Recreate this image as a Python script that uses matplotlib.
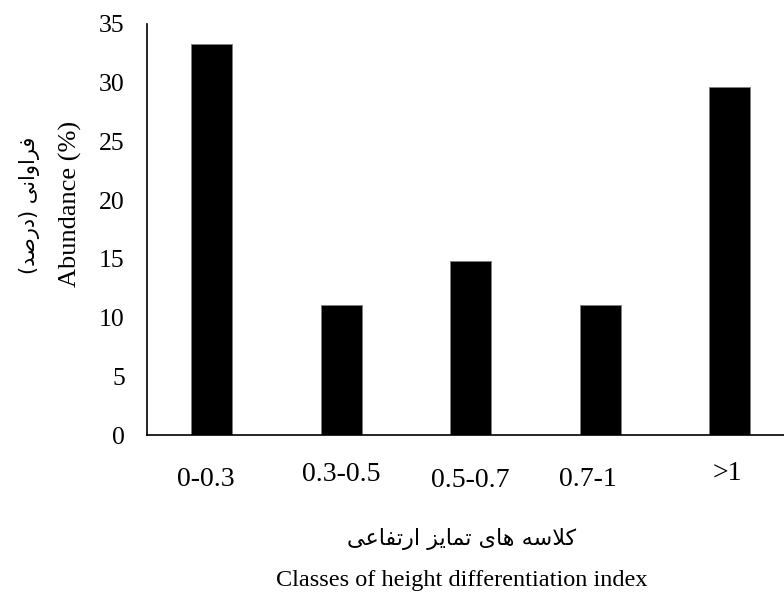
import numpy as np
import matplotlib
matplotlib.use('Agg')
import matplotlib.pyplot as plt

plt.rcParams['font.family'] = ['Liberation Serif', 'DejaVu Sans']

# داده ها
classes = ['0-0.3', '0.3-0.5', '0.5-0.7', '0.7-1', '>1']
abundance = [33.3, 11.1, 14.8, 11.1, 29.6]
y_ticks = [0, 5, 10, 15, 20, 25, 30, 35]

ylabel_fa = 'فراوانی (درصد)'
ylabel_en = 'Abundance (%)'
xlabel_fa = 'کلاسه های تمایز ارتفاعی'
xlabel_en = 'Classes of height differentiation index'

# label offsets (pixels) of the staggered category labels
label_dx = [-6, 0, 0, -12, -2]
label_dy = [-51, -46, -52, -51, -45]

# simple persian shaping: (isolated, final, initial, medial)
FORMS = {
    'ا': (0xFE8D, 0xFE8E, None, None), 'ر': (0xFEAD, 0xFEAE, None, None),
    'ز': (0xFEAF, 0xFEB0, None, None), 'د': (0xFEA9, 0xFEAA, None, None),
    'و': (0xFEED, 0xFEEE, None, None),
    'ف': (0xFED1, 0xFED2, 0xFED3, 0xFED4), 'ن': (0xFEE5, 0xFEE6, 0xFEE7, 0xFEE8),
    'ی': (0xFBFC, 0xFBFD, 0xFBFE, 0xFBFF), 'ص': (0xFEB9, 0xFEBA, 0xFEBB, 0xFEBC),
    'ک': (0xFB8E, 0xFB8F, 0xFB90, 0xFB91), 'ل': (0xFEDD, 0xFEDE, 0xFEDF, 0xFEE0),
    'س': (0xFEB1, 0xFEB2, 0xFEB3, 0xFEB4), 'ه': (0xFEE9, 0xFEEA, 0xFEEB, 0xFEEC),
    'ت': (0xFE95, 0xFE96, 0xFE97, 0xFE98), 'م': (0xFEE1, 0xFEE2, 0xFEE3, 0xFEE4),
    'ع': (0xFEC9, 0xFECA, 0xFECB, 0xFECC),
}


def shape_fa(s):
    s = s.replace('لا', '\uFFF0')  # lam-alef placeholder
    out = []
    for i, c in enumerate(s):
        prev = s[i - 1] if i > 0 else ''
        nxt = s[i + 1] if i + 1 < len(s) else ''
        prev_joins = (prev in FORMS and FORMS[prev][2] is not None)
        if c == '\uFFF0':
            out.append(chr(0xFEFC if prev_joins else 0xFEFB))
            continue
        if c not in FORMS:
            out.append(c)
            continue
        f = FORMS[c]
        next_joins = f[2] is not None and (nxt in FORMS or nxt == '\uFFF0')
        if prev_joins and next_joins:
            out.append(chr(f[3]))
        elif prev_joins:
            out.append(chr(f[1]))
        elif next_joins:
            out.append(chr(f[2]))
        else:
            out.append(chr(f[0]))
    vis = ''.join(reversed(out))
    return vis.translate(str.maketrans('()', ')('))


fig = plt.figure(figsize=(7.84, 5.95), dpi=100)
ax = fig.add_axes([147 / 784, 1 - 435 / 595, 647.5 / 784, 411 / 595])

x = np.arange(len(classes))
ax.bar(x, abundance, width=0.316, color='black', edgecolor='#7f7f7f', linewidth=0.6)

ax.set_xlim(-0.5, len(classes) - 0.5)
ax.set_ylim(0, 35)
ax.set_yticks(y_ticks)
ax.set_xticks([])
ax.tick_params(axis='y', length=0, pad=16, labelsize=18.5)
for sp in ['top', 'right']:
    ax.spines[sp].set_visible(False)
ax.spines['left'].set_linewidth(1.2)
ax.spines['bottom'].set_linewidth(1.2)

for i, lab in enumerate(classes):
    ax.annotate(lab, xy=(x[i], 0), xycoords=('data', 'axes fraction'),
                xytext=(label_dx[i], label_dy[i]), textcoords='offset pixels',
                ha='center', va='baseline', fontsize=20, annotation_clip=False)

# عنوان محورها
fig.text(70 / 784, 1 - 204 / 595, ylabel_en, rotation=90, ha='center', va='center', fontsize=19)
fig.text(30 / 784, 1 - 205 / 595, shape_fa(ylabel_fa), rotation=90, ha='center', va='center',
         fontsize=15, family=['DejaVu Sans'])
fig.text(462 / 784, 1 - 539 / 595, shape_fa(xlabel_fa), ha='center', va='center',
         fontsize=16, family=['DejaVu Sans'])
fig.text(462 / 784, 1 - 586 / 595, xlabel_en, ha='center', va='baseline', fontsize=17.5)

plt.savefig('out.png', dpi=100)
